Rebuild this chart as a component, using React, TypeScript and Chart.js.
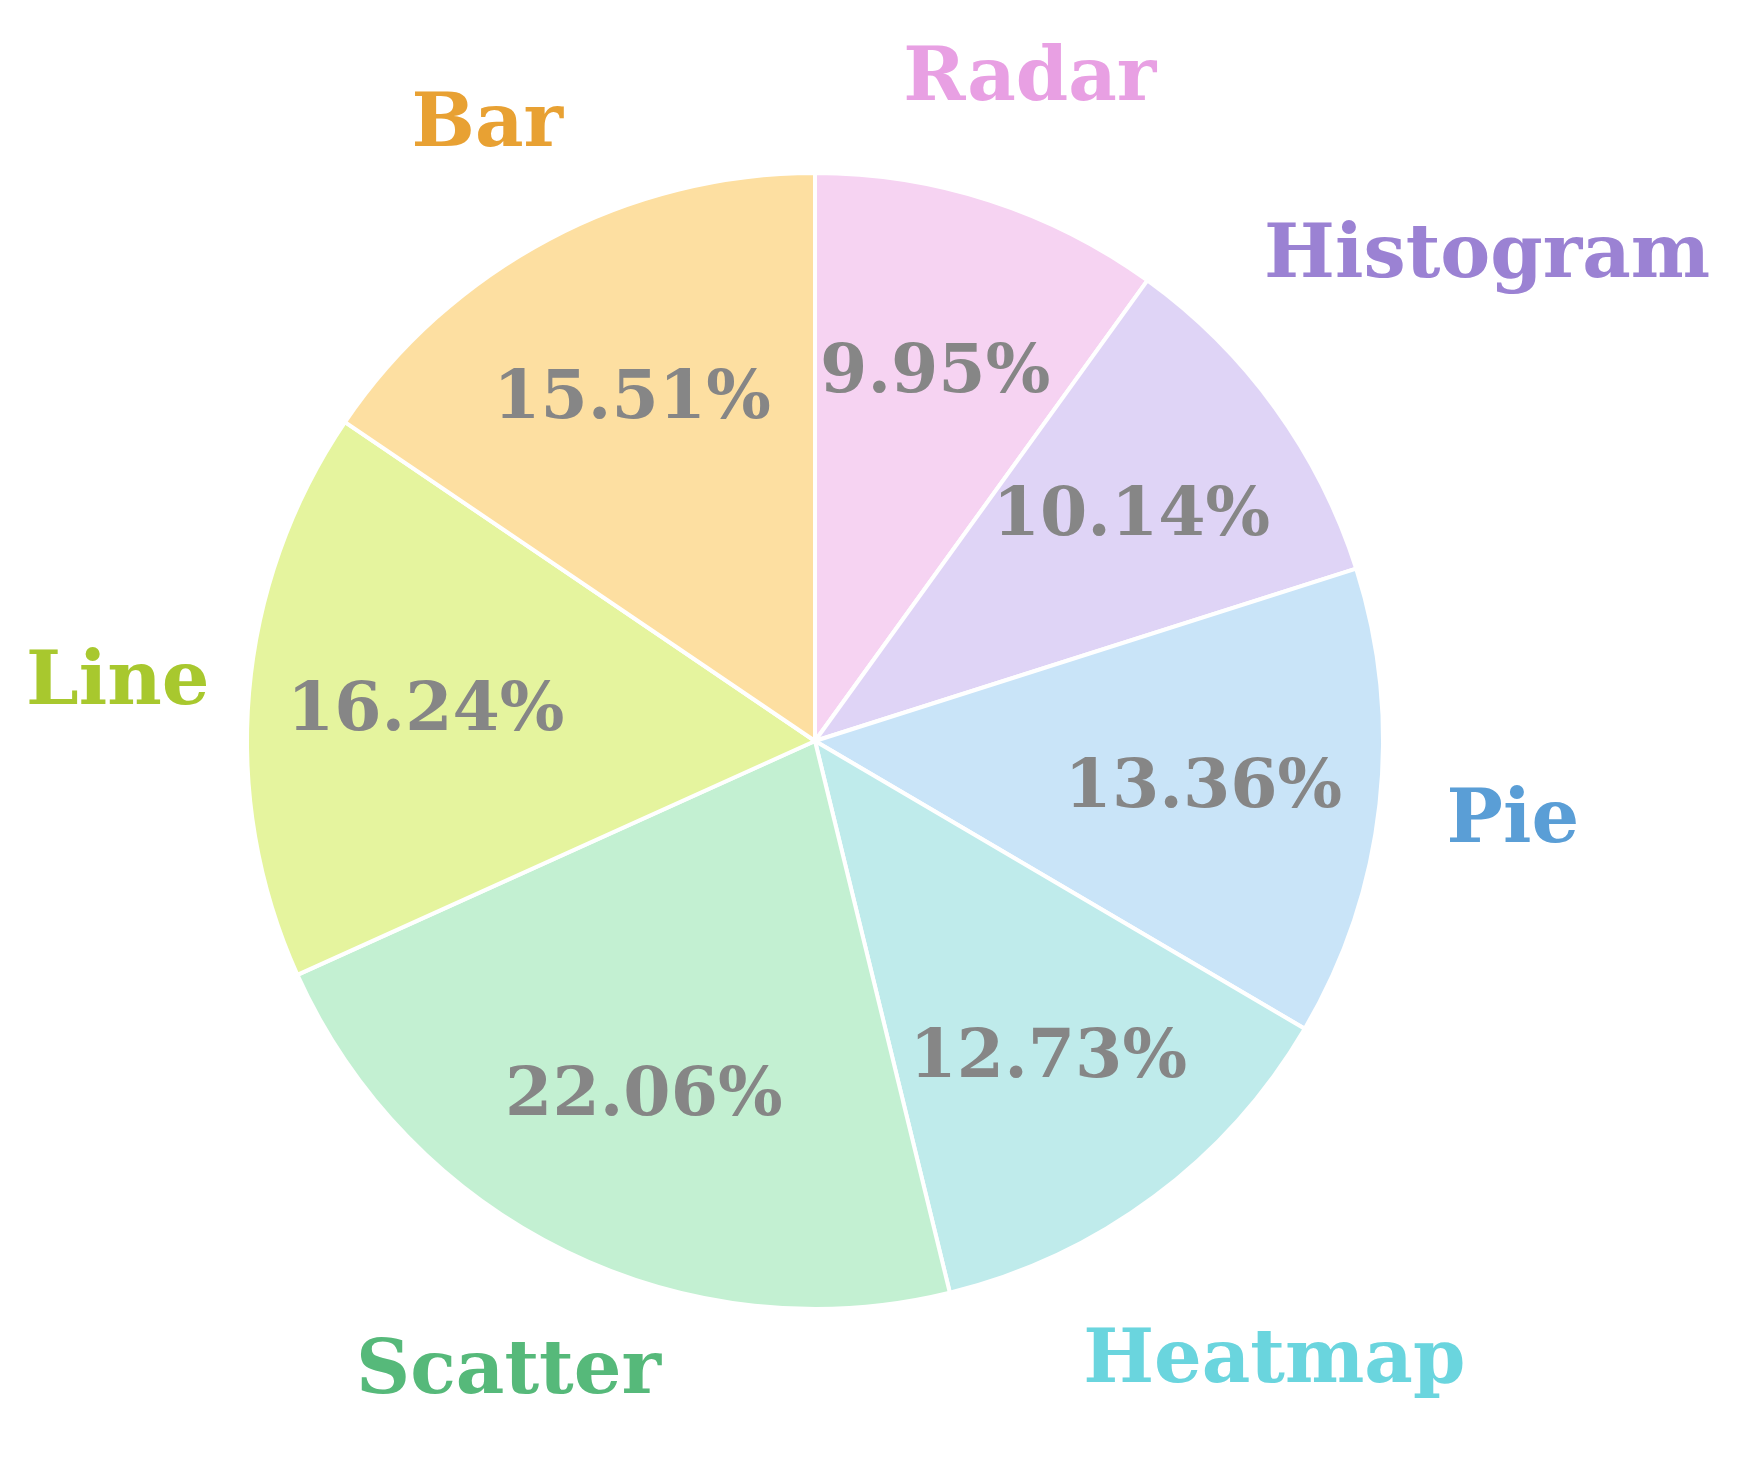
import { useEffect, useRef } from 'react'
import { Chart, registerables } from 'chart.js'

Chart.register(...registerables)

// clockwise from 12 o'clock (the source runs counter-clockwise from Bar)
const chartTypes = ['Radar', 'Histogram', 'Pie', 'Heatmap', 'Scatter', 'Line', 'Bar']
const shares = [9.95, 10.14, 13.36, 12.73, 22.06, 16.24, 15.51]
const fillColors = ['#F6D3F2', '#DFD4F6', '#C9E4F8', '#BFEBEB', '#C3F0D2', '#E5F49E', '#FDDFA1']
const labelColors = ['#E8A0E3', '#9B82D3', '#5A9ED6', '#6AD5DE', '#56B97A', '#A8C82E', '#E8A133']

const FONT = '"DejaVu Serif", serif'
const LABEL_SIZE = 75
const PCT_SIZE = 68

const sliceLabels = {
  id: 'sliceLabels',
  afterDatasetsDraw(chart: Chart) {
    const ctx = chart.ctx
    const meta = chart.getDatasetMeta(0)
    ctx.save()
    ctx.textAlign = 'center'
    ctx.textBaseline = 'alphabetic'
    meta.data.forEach((el: any, i: number) => {
      const { x, y, startAngle, endAngle, outerRadius } = el.getProps(['x', 'y', 'startAngle', 'endAngle', 'outerRadius'], true)
      const mid = (startAngle + endAngle) / 2
      const c = Math.cos(mid), s = Math.sin(mid)

      // percentage inside the slice
      ctx.font = `bold ${PCT_SIZE}px ${FONT}`
      ctx.fillStyle = '#868686'
      const pr = outerRadius * 0.688
      ctx.fillText(`${shares[i].toFixed(2)}%`, x + c * pr, y + s * pr + PCT_SIZE * 0.729 / 2 - 2)

      // category name outside the rim
      ctx.font = `bold ${LABEL_SIZE}px ${FONT}`
      ctx.fillStyle = labelColors[i]
      const w = ctx.measureText(chartTypes[i]).width
      const capH = LABEL_SIZE * 0.729
      const ext = (w / 2) * Math.abs(c) + (capH / 2) * Math.abs(s)
      // right-hand labels keep their near edge off the rim; left-hand ones sit at a fixed radius
      const lr = c > 0 ? Math.max(outerRadius * 1.115 + ext, outerRadius * 1.228) : outerRadius * 1.232
      ctx.fillText(chartTypes[i], x + c * lr, y + s * lr + capH / 2 - 4)
    })
    ctx.restore()
  },
}

export default function App() {
  const canvasRef = useRef<HTMLCanvasElement>(null)
  const chartRef = useRef<Chart | null>(null)

  useEffect(() => {
    if (!canvasRef.current) return
    chartRef.current?.destroy()
    chartRef.current = new Chart(canvasRef.current, {
      type: 'pie',
      data: {
        labels: chartTypes,
        datasets: [{
          data: shares,
          backgroundColor: fillColors,
          borderColor: '#ffffff',
          borderWidth: 4,
        }],
      },
      options: {
        responsive: false,
        animation: false,
        radius: 568,
        layout: { padding: { left: 0, right: 110, top: 0, bottom: 2 } },
        plugins: {
          legend: { display: false },
          tooltip: { enabled: false },
        },
      } as any,
      plugins: [sliceLabels],
    })
    return () => chartRef.current?.destroy()
  }, [])

  return (
    <div style={{ position: 'absolute', left: 0, top: 0, width: 1740, height: 1484, background: '#fff' }}>
      <canvas ref={canvasRef} width={1740} height={1484} />
    </div>
  )
}
